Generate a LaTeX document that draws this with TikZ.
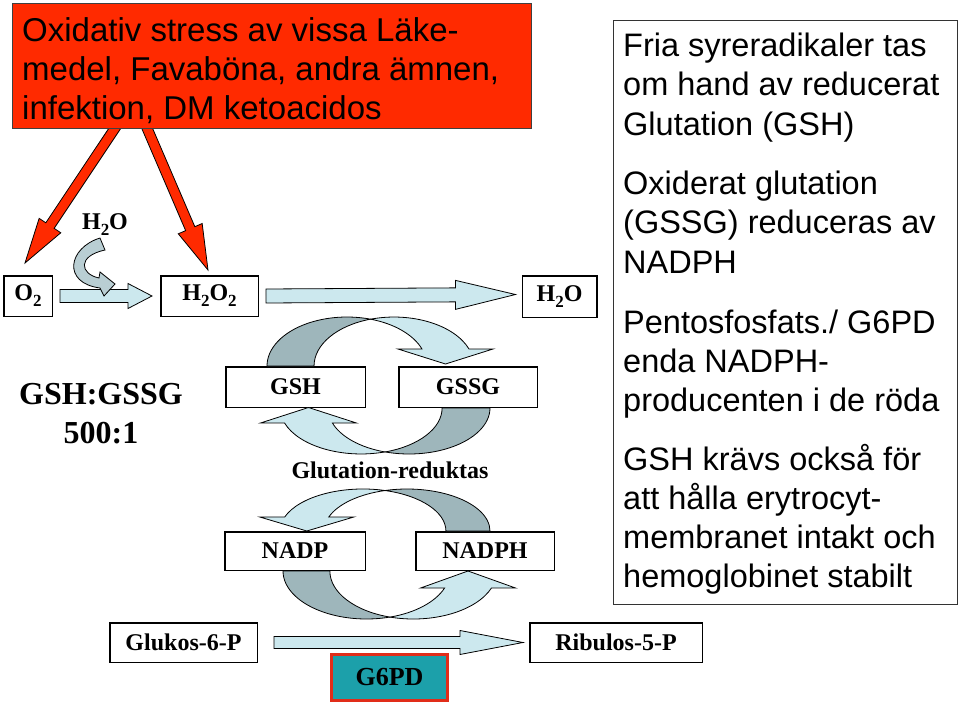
\documentclass[tikz,border=0pt]{standalone}
\usepackage{fontspec}
\setmainfont{Liberation Sans}
\newfontfamily\serifb{Liberation Serif}
\usetikzlibrary{calc}
\definecolor{stressred}{RGB}{255,42,0}
\definecolor{arrowblue}{RGB}{204,232,238}
\definecolor{arrowdark}{RGB}{158,182,187}
\definecolor{smallarrow}{RGB}{185,206,211}
\definecolor{tealbox}{RGB}{28,160,170}
\definecolor{borderred}{RGB}{225,45,25}
\newcommand\lblfont{\serifb\bfseries\fontsize{24}{28}\selectfont}
\newcommand\bigtxt{\fontsize{32.5}{39}\selectfont}
\newcommand\redtxt{\fontsize{33}{39}\selectfont}
\newcommand\chs[1]{\raisebox{-0.25em}{\fontsize{17}{17}\selectfont #1}}
% block arrow: #1 start coord, #2 tip coord, #3 shaft half width, #4 head half width, #5 head length, #6 style
\newcommand\blockarr[6]{%
  \coordinate (ba-h) at ($(#2)!#5!(#1)$);
  \draw[#6] ($(#1)!#3!90:(#2)$) -- ($(ba-h)!#3!90:(#2)$) -- ($(ba-h)!#4!90:(#2)$) -- (#2)
    -- ($(ba-h)!#4!-90:(#2)$) -- ($(ba-h)!#3!-90:(#2)$) -- ($(#1)!#3!-90:(#2)$) -- cycle;}
\begin{document}
\begin{tikzpicture}[x=1pt,y=-1pt,
  chembox/.style={draw=black, line width=1.5pt, fill=white, inner sep=0pt, font=\lblfont},
  blockstyle/.style={fill=arrowblue, draw=black, line width=0.8pt, line join=miter},
  redarrow/.style={fill=stressred, draw=black, line width=0.8pt, line join=miter},
  darkband/.style={fill=arrowdark, draw=black, line width=0.8pt},
  lightband/.style={fill=arrowblue, draw=black, line width=0.8pt, line join=miter},
  plainlbl/.style={inner sep=0pt, font=\lblfont},
  bodytxt/.style={anchor=base west, inner sep=0pt, font=\bigtxt}]
\useasboundingbox (0,0) rectangle (959,707);

% ---------- red arrows (drawn first, box covers their ends)
\coordinate (r1s) at (123.7,115);
\coordinate (r1e) at (25,263);
\coordinate (r2s) at (141.4,115);
\coordinate (r2e) at (208,270);
\blockarr{r1s}{r1e}{5pt}{13pt}{45pt}{redarrow}
\blockarr{r2s}{r2e}{5pt}{13pt}{45pt}{redarrow}

% ---------- stress box
\node[draw=black!75, line width=1pt, fill=stressred, minimum width=519pt, minimum height=125pt, inner sep=0pt] (stress) at (271.5,65.5) {};
\node[bodytxt, font=\redtxt] (s1) at (22,41) {Oxidativ stress av vissa Läke-};
\node[bodytxt, font=\redtxt] (s2) at (22,80) {medel, Favaböna, andra ämnen,};
\node[bodytxt, font=\redtxt] (s3) at (22,119) {infektion, DM ketoacidos};

% ---------- info box
\node[draw=black!80, line width=1pt, minimum width=344pt, minimum height=584pt, inner sep=0pt] (info) at (785.5,312) {};
\node[bodytxt] (i1) at (623,56) {Fria syreradikaler tas};
\node[bodytxt] (i2) at (623,95) {om hand av reducerat};
\node[bodytxt] (i3) at (623,135) {Glutation (GSH)};
\node[bodytxt] (i4) at (623,194) {Oxiderat glutation};
\node[bodytxt] (i5) at (623,233) {(GSSG) reduceras av};
\node[bodytxt] (i6) at (623,273) {NADPH};
\node[bodytxt] (i7) at (623,333) {Pentosfosfats./ G6PD};
\node[bodytxt] (i8) at (623,372) {enda NADPH-};
\node[bodytxt] (i9) at (623,411) {producenten i de röda};
\node[bodytxt] (i10) at (623,470) {GSH krävs också för};
\node[bodytxt] (i11) at (623,509) {att hålla erytrocyt-};
\node[bodytxt] (i12) at (623,548) {membranet intakt och};
\node[bodytxt] (i13) at (623,587) {hemoglobinet stabilt};

% ---------- chemistry boxes
\node[chembox, minimum width=48.5pt, minimum height=40.5pt] (o2) at (28,296) {O\chs{2}};
\node[chembox, minimum width=97.5pt, minimum height=40.5pt] (h2o2) at (209.5,296) {H\chs{2}O\chs{2}};
\node[chembox, minimum width=74.5pt, minimum height=41.5pt] (h2o) at (559.5,296.5) {H\chs{2}O};
\node[plainlbl] (h2olbl) at (105,225) {H\chs{2}O};
\node[plainlbl, font=\serifb\bfseries\fontsize{32}{32}\selectfont] (ratio1) at (101,394) {GSH:GSSG};
\node[plainlbl, font=\serifb\bfseries\fontsize{32}{32}\selectfont] (ratio2) at (101,433) {500:1};
\node[chembox, minimum width=139.5pt, minimum height=40.5pt] (gsh) at (295.5,387) {GSH};
\node[chembox, minimum width=138.5pt, minimum height=40.5pt] (gssg) at (468,387) {GSSG};
\node[plainlbl] (gr) at (390,470) {Glutation-reduktas};
\node[chembox, minimum width=140.5pt, minimum height=38.5pt] (nadp) at (295,551) {NADP};
\node[chembox, minimum width=138.5pt, minimum height=38.5pt] (nadph) at (485,551) {NADPH};
\node[chembox, minimum width=147.5pt, minimum height=39.5pt] (g6p) at (183.5,642.5) {Glukos-6-P};
\node[chembox, minimum width=172.5pt, minimum height=39.5pt] (r5p) at (616,642.5) {Ribulos-5-P};
\node[draw=borderred, line width=3pt, fill=tealbox, minimum width=116pt, minimum height=46pt, inner sep=0pt,
  font=\serifb\bfseries\fontsize{26}{28}\selectfont] (g6pd) at (389.5,677.5) {G6PD};

% ---------- straight block arrows
\coordinate (a1s) at ($(o2.east)+(7,0)$);
\coordinate (a1e) at ($(h2o2.west)+(-8,0)$);
\blockarr{a1s}{a1e}{6.5pt}{12.5pt}{24pt}{blockstyle}
\coordinate (a2s) at ($(h2o2.east)+(7,0)$);
\coordinate (a2e) at ($(h2o.west)+(-6,-2)$);
\blockarr{a2s}{a2e}{7pt}{14.5pt}{60pt}{blockstyle}
\coordinate (a3s) at ($(g6p.east)+(16,0)$);
\coordinate (a3e) at ($(r5p.west)+(-6,0)$);
\blockarr{a3s}{a3e}{6pt}{12pt}{63pt}{blockstyle}

% ---------- small curved arrow H2O
\draw[fill=smallarrow, draw=black, line width=0.8pt, line join=miter]
  (100,238) .. controls (68,248) and (62,283) .. (100,288)
  -- (104,296) -- (115,284) -- (100,272) -- (99,278)
  .. controls (80,274) and (77,256) .. (105,250) -- cycle;

% ---------- GSH -> GSSG (upper loop)
\draw[darkband] (267,366) arc[start angle=180,end angle=287.1,x radius=80,y radius=49]
  arc[start angle=252.9,end angle=180,x radius=80,y radius=49] -- cycle;
\draw[lightband] (370.5,319.2) arc[start angle=252.9,end angle=339.7,x radius=80,y radius=49]
  -- (493,349) -- (445.5,364) -- (398,349) -- (422,349)
  arc[start angle=339.7,end angle=287.1,x radius=80,y radius=49] -- cycle;

% ---------- GSSG -> GSH (lower loop)
\draw[darkband] (490,408) arc[start angle=0,end angle=107.2,x radius=81,y radius=46]
  arc[start angle=72.8,end angle=0,x radius=81,y radius=46] -- cycle;
\draw[lightband] (385.05,451.9) arc[start angle=72.8,end angle=161,x radius=81,y radius=46]
  -- (260.5,423) -- (308.5,407.5) -- (356.4,423) -- (332.4,423)
  arc[start angle=161,end angle=107.2,x radius=81,y radius=46] -- cycle;

% ---------- NADPH -> NADP (upper loop)
\draw[darkband] (490,531) arc[start angle=360,end angle=254.6,x radius=83,y radius=42]
  arc[start angle=285.4,end angle=360,x radius=83,y radius=42] -- cycle;
\draw[lightband] (385,490.5) arc[start angle=285.4,end angle=199.5,x radius=83,y radius=42]
  -- (259.8,517) -- (306.8,531) -- (353.8,517) -- (328.8,517)
  arc[start angle=199.5,end angle=254.6,x radius=83,y radius=42] -- cycle;

% ---------- NADP -> NADPH (lower loop)
\draw[darkband] (283,571) arc[start angle=180,end angle=73.7,x radius=83.5,y radius=48]
  arc[start angle=106.3,end angle=180,x radius=83.5,y radius=48] -- cycle;
\draw[lightband] (389.94,617.07) arc[start angle=106.3,end angle=20.7,x radius=83.5,y radius=48]
  -- (515.5,588) -- (468,571) -- (420.6,588) -- (444.6,588)
  arc[start angle=20.7,end angle=73.7,x radius=83.5,y radius=48] -- cycle;
\end{tikzpicture}
\end{document}
